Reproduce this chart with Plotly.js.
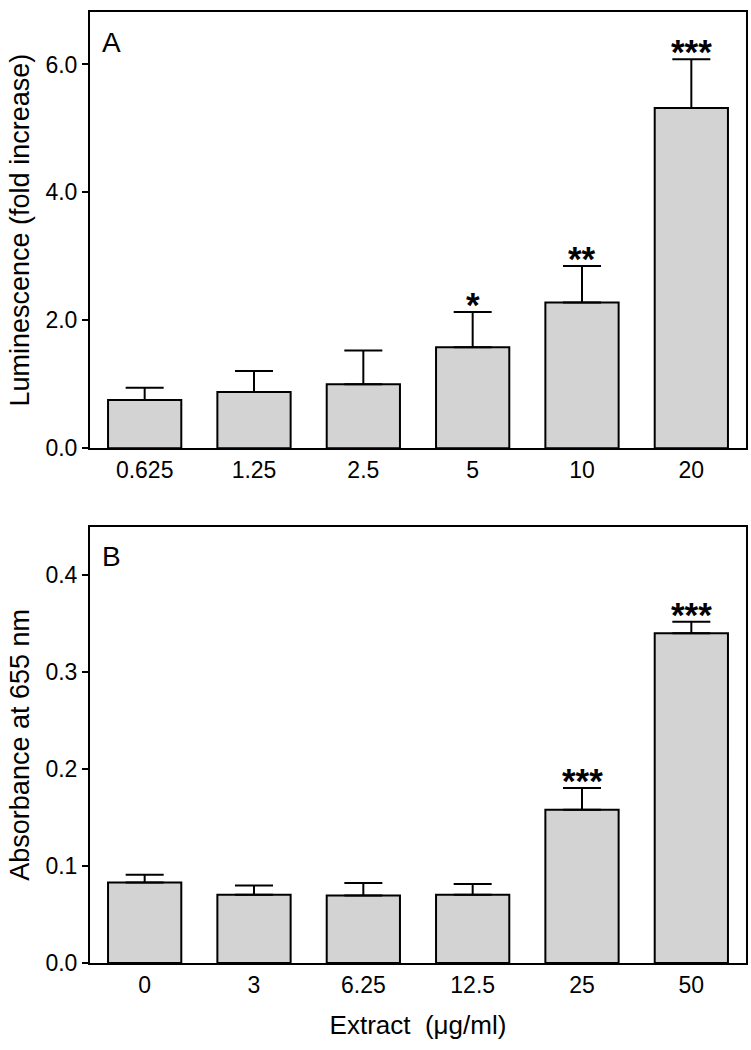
<!DOCTYPE html>
<html>
<head>
<meta charset="utf-8">
<script src="https://cdn.plot.ly/plotly-3.0.1.min.js"></script>
<style>html,body{margin:0;padding:0;background:#fff;}#chart{width:751px;height:1050px;}</style>
</head>
<body>
<div id="chart"></div>
<script>
// Panel A: luminescence
const catsA = ['0.625', '1.25', '2.5', '5', '10', '20'];
const valsA = [0.755, 0.88, 1.00, 1.58, 2.28, 5.32];
const errsA = [0.19, 0.33, 0.53, 0.55, 0.57, 0.76];
const sigA  = ['', '', '', '*', '**', '***'];

// Panel B: absorbance at 655 nm
const catsB = ['0', '3', '6.25', '12.5', '25', '50'];
const valsB = [0.083, 0.0705, 0.0695, 0.0705, 0.158, 0.340];
const errsB = [0.008, 0.0093, 0.013, 0.011, 0.0224, 0.012];
const sigB  = ['', '', '', '', '***', '***'];

const FONT = 'Liberation Sans, Arial, Helvetica, sans-serif';
const zeros = n => new Array(n).fill(0);

function barTrace(cats, vals, errs, xa, ya) {
  return {
    type: 'bar', x: cats, y: vals, xaxis: xa, yaxis: ya,
    marker: {color: '#d3d3d3', line: {color: '#000', width: 2}},
    error_y: {type: 'data', symmetric: false, array: errs, arrayminus: zeros(errs.length),
              color: '#000', thickness: 2, width: 19},
    showlegend: false, hoverinfo: 'skip'
  };
}

const annotations = [];
function addStars(cats, vals, errs, sig, xr, yr) {
  cats.forEach((c, i) => {
    if (!sig[i]) return;
    annotations.push({
      x: i, y: vals[i] + errs[i], xref: xr, yref: yr,   // category index i = cats[i]
      text: sig[i], showarrow: false, yanchor: 'bottom', yshift: -14,
      font: {family: FONT, size: 35, color: '#000', weight: 'bold'}
    });
  });
}
addStars(catsA, valsA, errsA, sigA, 'x', 'y');
addStars(catsB, valsB, errsB, sigB, 'x2', 'y2');

annotations.push({text: 'A', xref: 'x domain', yref: 'y domain', x: 0.016, y: 0.93,
  xanchor: 'left', yanchor: 'middle', showarrow: false, font: {family: FONT, size: 28, color: '#000'}});
annotations.push({text: 'B', xref: 'x2 domain', yref: 'y2 domain', x: 0.016, y: 0.932,
  xanchor: 'left', yanchor: 'middle', showarrow: false, font: {family: FONT, size: 28, color: '#000'}});

const xBase = {
  type: 'category', showline: true, mirror: true, linecolor: '#000', linewidth: 2,
  ticks: '', showgrid: false, zeroline: false, range: [-0.5, 5.5],
  tickfont: {family: FONT, size: 23, color: '#000'}
};
const yBase = {
  showline: true, mirror: true, linecolor: '#000', linewidth: 2,
  ticks: 'outside', ticklen: 6, tickwidth: 2, tickcolor: '#000',
  showgrid: false, zeroline: false, tickformat: '.1f',
  tickfont: {family: FONT, size: 23, color: '#000'}
};

const layout = {
  width: 751, height: 1050,
  margin: {l: 90, r: 5, t: 12, b: 87},
  paper_bgcolor: '#fff', plot_bgcolor: '#fff',
  bargap: 0.33,
  xaxis: Object.assign({}, xBase, {anchor: 'y', domain: [0, 1]}),
  yaxis: Object.assign({}, yBase, {anchor: 'x', domain: [0.5412, 1], range: [0, 6.82], dtick: 2,
    title: {text: 'Luminescence (fold increase)', standoff: 8, font: {family: FONT, size: 27, color: '#000'}}}),
  xaxis2: Object.assign({}, xBase, {anchor: 'y2', domain: [0, 1],
    title: {text: 'Extract  (\u03bcg/ml)', standoff: 19, font: {family: FONT, size: 26, color: '#000'}}}),
  yaxis2: Object.assign({}, yBase, {anchor: 'x2', domain: [0, 0.4588], range: [0, 0.45], dtick: 0.1,
    title: {text: 'Absorbance at 655 nm', standoff: 8, font: {family: FONT, size: 27, color: '#000'}}}),
  annotations: annotations
};

Plotly.newPlot('chart', [
  barTrace(catsA, valsA, errsA, 'x', 'y'),
  barTrace(catsB, valsB, errsB, 'x2', 'y2')
], layout, {displayModeBar: false, staticPlot: true});
</script>
</body>
</html>
